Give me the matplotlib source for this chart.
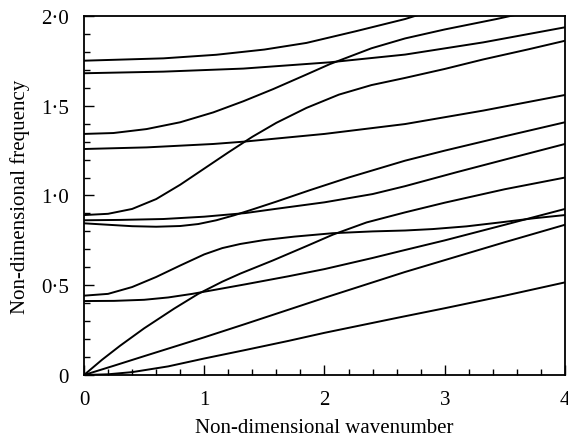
import matplotlib
matplotlib.use("Agg")
import matplotlib.pyplot as plt
from matplotlib.ticker import MultipleLocator, FuncFormatter

plt.rcParams['font.family'] = ['Liberation Serif', 'DejaVu Serif']

# dispersion branches: (wavenumber, frequency)
c1_x = [0, 0.2, 0.4, 0.7, 1.0, 1.34, 1.7, 2.0, 2.63, 3.0, 3.5, 4.0]
c1_y = [0, 0.004, 0.016, 0.048, 0.092, 0.139, 0.19, 0.235, 0.322, 0.372, 0.442, 0.516]

c2_x = [0, 0.25, 0.5, 1.0, 1.34, 2.0, 2.67, 3.0, 3.5, 4.0]
c2_y = [0, 0.052, 0.105, 0.21, 0.284, 0.43, 0.574, 0.64, 0.74, 0.837]

c3_x = [0, 0.15, 0.3, 0.5, 0.75, 0.95, 1.15, 1.3, 1.57, 1.85, 2.07, 2.35, 2.67, 3.0, 3.5, 4.0]
c3_y = [0, 0.085, 0.163, 0.26, 0.37, 0.452, 0.52, 0.565, 0.638, 0.718, 0.782, 0.85, 0.906, 0.96, 1.035, 1.10]

c4_x = [0, 0.25, 0.5, 0.7, 0.9, 1.1, 1.34, 1.7, 2.0, 2.4, 2.63, 3.0, 3.5, 4.0]
c4_y = [0.412, 0.413, 0.419, 0.432, 0.452, 0.476, 0.505, 0.55, 0.59, 0.652, 0.69, 0.75, 0.837, 0.925]

c5_x = [0, 0.2, 0.4, 0.6, 0.8, 1.0, 1.15, 1.3, 1.5, 1.75, 2.07, 2.4, 2.67, 2.9, 3.18, 3.46, 3.74, 4.0]
c5_y = [0.442, 0.452, 0.49, 0.546, 0.61, 0.672, 0.707, 0.73, 0.752, 0.771, 0.79, 0.8, 0.805, 0.813, 0.828, 0.85, 0.873, 0.891]

c6_x = [0, 0.2, 0.4, 0.6, 0.8, 0.95, 1.1, 1.25, 1.4, 1.6, 1.88, 2.2, 2.67, 3.0, 3.5, 4.0]
c6_y = [0.845, 0.837, 0.829, 0.826, 0.83, 0.841, 0.862, 0.89, 0.922, 0.966, 1.03, 1.10, 1.194, 1.25, 1.33, 1.408]

c7_x = [0, 0.3, 0.66, 1.0, 1.34, 1.6, 2.0, 2.4, 2.67, 3.1, 3.5, 4.0]
c7_y = [0.862, 0.864, 0.869, 0.882, 0.902, 0.926, 0.962, 1.008, 1.052, 1.13, 1.2, 1.287]

c8_x = [0, 0.2, 0.4, 0.6, 0.8, 1.0, 1.2, 1.4, 1.6, 1.85, 2.12, 2.39, 2.67, 3.0, 3.32, 3.7, 4.0]
c8_y = [0.891, 0.898, 0.925, 0.98, 1.06, 1.15, 1.24, 1.327, 1.405, 1.488, 1.562, 1.615, 1.655, 1.705, 1.758, 1.815, 1.862]

c9_x = [0, 0.52, 1.075, 1.33, 2.0, 2.67, 3.32, 4.0]
c9_y = [1.259, 1.268, 1.287, 1.3, 1.343, 1.398, 1.473, 1.56]

c10_x = [0, 0.244, 0.52, 0.8, 1.075, 1.325, 1.574, 1.85, 2.045, 2.39, 2.67, 3.0, 3.43, 3.6]
c10_y = [1.343, 1.348, 1.37, 1.408, 1.463, 1.525, 1.593, 1.674, 1.732, 1.82, 1.875, 1.925, 1.983, 2.008]

c11_x = [0, 0.66, 1.325, 2.045, 2.67, 3.32, 4.0]
c11_y = [1.681, 1.69, 1.707, 1.742, 1.785, 1.853, 1.937]

c12_x = [0, 0.66, 1.1, 1.5, 1.85, 2.26, 2.67, 2.8]
c12_y = [1.751, 1.764, 1.784, 1.813, 1.85, 1.915, 1.983, 2.01]

branches = [(c1_x, c1_y), (c2_x, c2_y), (c3_x, c3_y), (c4_x, c4_y),
            (c5_x, c5_y), (c6_x, c6_y), (c7_x, c7_y), (c8_x, c8_y),
            (c9_x, c9_y), (c10_x, c10_y), (c11_x, c11_y), (c12_x, c12_y)]

fig = plt.figure(figsize=(5.68, 4.39), dpi=100)
ax = fig.add_axes([0.1479, 0.1435, 0.8468, 0.8178])

for bx, by in branches:
    ax.plot(bx, by, color='black', linewidth=1.4, solid_joinstyle='round')

ax.set_xlim(0, 4)
ax.set_ylim(0, 2)

ax.xaxis.set_major_locator(MultipleLocator(1))
ax.xaxis.set_minor_locator(MultipleLocator(0.2))
ax.yaxis.set_major_locator(MultipleLocator(0.5))
ax.yaxis.set_minor_locator(MultipleLocator(0.1))

# journal style decimal point
def dot_fmt(v, pos):
    if abs(v) < 1e-9:
        return '0'
    return f'{v:.1f}'.replace('.', '\u00b7')

ax.yaxis.set_major_formatter(FuncFormatter(dot_fmt))

ax.tick_params(which='both', direction='in', top=False, right=False, labelsize=15, width=1.0)
ax.tick_params(which='major', length=7, pad=11)
ax.tick_params(which='minor', length=4)

for s in ax.spines.values():
    s.set_linewidth(1.3)

ax.set_xlabel('Non-dimensional wavenumber', fontsize=15, labelpad=6)
ax.set_ylabel('Non-dimensional frequency', fontsize=15, labelpad=8)

fig.savefig('out.png', dpi=100)
